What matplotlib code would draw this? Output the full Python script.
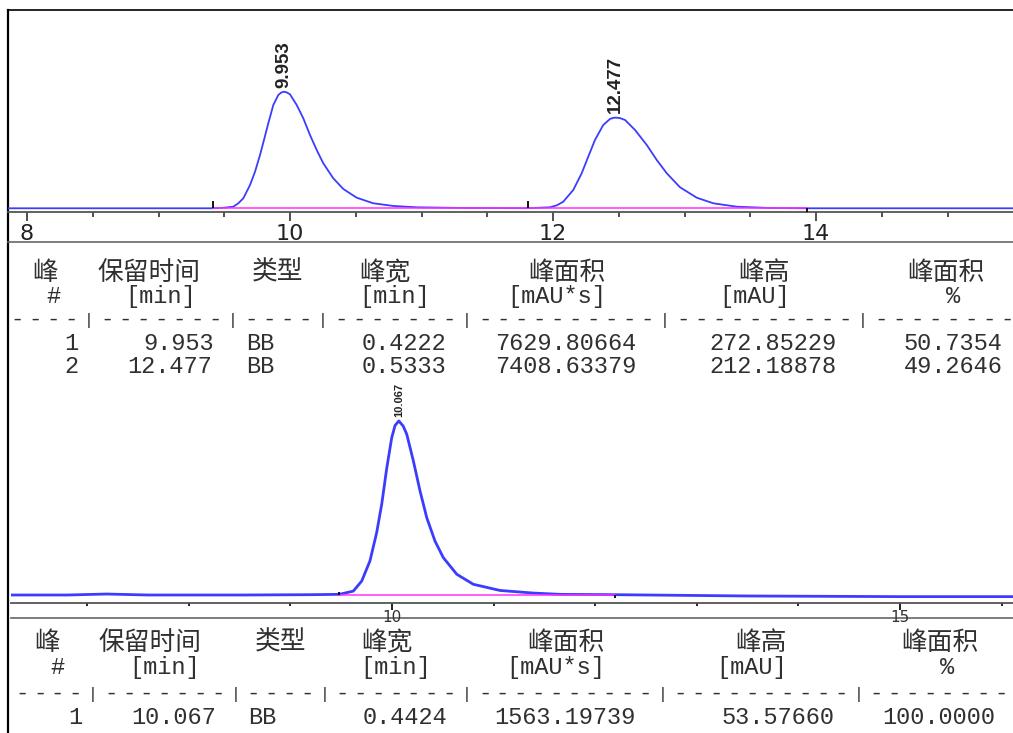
import matplotlib.pyplot as plt
import numpy as np

plt.rcParams['font.family'] = 'DejaVu Sans'

W, H = 1013, 733
CJK = ['Noto Sans CJK SC', 'DejaVu Sans']
MONO = 'Liberation Mono'
LABEL = ['Liberation Sans', 'DejaVu Sans']
TXT = '#303030'

# --- chromatogram 1 ---
t_trace1 = [7.85, 8.5, 9.0, 9.414, 9.49, 9.569, 9.607, 9.645, 9.696, 9.734, 9.772,
            9.802, 9.835, 9.873, 9.911, 9.932, 9.953, 9.976, 10.0, 10.051, 10.101,
            10.152, 10.203, 10.253, 10.329, 10.405, 10.507, 10.633, 10.786, 10.963,
            11.3, 11.81, 11.977, 12.03, 12.078, 12.154, 12.218, 12.268, 12.319,
            12.382, 12.433, 12.455, 12.477, 12.51, 12.548, 12.624, 12.713, 12.789,
            12.865, 12.966, 13.093, 13.219, 13.397, 13.65, 13.93, 14.5, 15.5]
mau_trace1 = [0, 0, 0, 0, 1.0, 3.7, 11.7, 23.4, 54.5, 85.6, 124.7,
              159.8, 198.9, 241.7, 265.1, 270.5, 272.85, 271.0, 266.7, 241.7, 210.6,
              171.5, 136.4, 105.3, 70.2, 45.2, 24.8, 11.7, 5.4, 2.3,
              0.8, 0.2, 2.3, 7.0, 15.4, 42.8, 81.9, 120.7, 159.8,
              194.9, 208.9, 211.3, 212.19, 211.0, 206.6, 183.2, 148.1, 113.0,
              81.9, 49.1, 24.8, 11.7, 3.7, 0.7, 0, 0, 0]
ev_up1 = [9.414, 11.81]
ev_down1 = [13.93]
base1 = [9.414, 13.93]

rt1 = [9.953, 12.477]
type1 = ['BB', 'BB']
width1 = [0.4222, 0.5333]
area1 = [7629.80664, 7408.63379]
height1 = [272.85229, 212.18878]
pct1 = [50.7354, 49.2646]

# --- chromatogram 2 ---
t_trace2 = [6.25, 6.8, 7.19, 7.6, 8.5, 9.2, 9.48, 9.619, 9.702, 9.783, 9.849,
            9.899, 9.948, 9.997, 10.03, 10.067, 10.11, 10.145, 10.21, 10.276,
            10.342, 10.423, 10.505, 10.637, 10.8, 11.063, 11.391, 11.654, 12.19,
            13.5, 15.0, 16.12]
mau_trace2 = [0, 0, 0.3, 0, 0, 0.1, 0.2, 1.2, 4.3, 10.5, 19.2,
              28.0, 39.0, 48.4, 52.2, 53.58, 52.0, 49.5, 41.3, 32.0,
              23.8, 16.6, 11.5, 6.4, 3.3, 1.4, 0.6, 0.2, 0.1,
              -0.3, -0.5, -0.5]
ev_up2 = [9.48]
ev_down2 = [12.19]
base2 = [9.48, 12.19]

rt2 = [10.067]
type2 = ['BB']
width2 = [0.4424]
area2 = [1563.19739]
height2 = [53.5766]
pct2 = [100.0]

headers = ['峰', '保留时间', '类型', '峰宽', '峰面积', '峰高', '峰面积']
units = ['#', '[min]', '', '[min]', '[mAU*s]', '[mAU]', '%']
unit_end = [2, 10, 0, 23, 33, 43, 52]
field_end = [3, 11, 14, 24, 35, 46, 55]
dash_line = '----|-------|----|-------|----------|----------|--------'


def box(l, t, r, b):
    return [l / W, 1 - b / H, (r - l) / W, (b - t) / H]


fig = plt.figure(figsize=(W / 100, H / 100), dpi=100)
ov = fig.add_axes([0, 0, 1, 1])
ov.set_xlim(0, W)
ov.set_ylim(H, 0)
ov.axis('off')

# frame lines
ov.plot([8, 8], [10, H], color='black', lw=1.6)
ov.plot([8, W], [10, 10], color='black', lw=1.2)
ov.plot([8, W], [242, 242], color='#666666', lw=1.2)
ov.plot([11, W], [618, 618], color='#666666', lw=1.2)


def chrom(ax, t, y, ev_up, ev_down, base, rts, hts, xlim, ylim, lw, up, down,
          label_size, label_weight):
    ax.set_facecolor('none')
    ax.plot(t, y, color='#3c3cff', lw=lw, zorder=2)
    ax.plot(base, [0, 0], color='#ff30ff', lw=1.1, zorder=3)
    ax.vlines(ev_up, 0, up, colors='black', lw=1.3, zorder=4)
    ax.vlines(ev_down, down, 0, colors='black', lw=1.3, zorder=4)
    for r, h in zip(rts, hts):
        ax.annotate(f'{r:.3f}', (r, h), xytext=(0, 3), textcoords='offset points',
                    rotation=90, ha='center', va='bottom', fontsize=label_size,
                    family=LABEL, weight=label_weight, color='#222222')
    ax.set_xlim(*xlim)
    ax.set_ylim(*ylim)
    ax.set_yticks([])
    for s in ['top', 'left', 'right']:
        ax.spines[s].set_visible(False)
    ax.spines['bottom'].set_color('#555555')
    ax.spines['bottom'].set_linewidth(1.3)


ax1 = fig.add_axes(box(8, 10, W, 212))
chrom(ax1, t_trace1, mau_trace1, ev_up1, ev_down1, base1, rt1, height1,
      (7.8555, 15.498), (-8.7, 464), 1.3, 17, -9, 13.5, 'bold')
ax1.set_xticks([8, 10, 12, 14])
ax1.set_xticks(np.arange(8.5, 15.5, 0.5), minor=True)
ax1.tick_params(axis='x', which='major', length=6.5, width=1.1, color='#222222',
                labelsize=16, pad=2, labelcolor='#222222')
ax1.tick_params(axis='x', which='minor', length=3.5, width=1.1, color='#222222')

ax2 = fig.add_axes(box(11, 378, W, 603))
chrom(ax2, t_trace2, mau_trace2, ev_up2, ev_down2, base2, rt2, height2,
      (6.25, 16.112), (-2.46, 66.8), 2.0, 1.0, -1.0, 8, 'bold')
ax2.set_xticks([10, 15])
ax2.set_xticks(np.arange(7, 17, 1), minor=True)
ax2.tick_params(axis='x', which='major', length=5, width=1.4, color='#222222',
                labelsize=11, pad=0, labelcolor='#333333')
ax2.tick_params(axis='x', which='minor', length=2.2, width=1.4, color='#222222')


def table(y_head, y_unit, y_dash, y_rows, x0, pitch, head_cx, rows):
    for txt, cx in zip(headers, head_cx):
        ov.text(cx, y_head, txt, family=CJK, fontsize=18.5, ha='center',
                va='baseline', color=TXT)
    for txt, end in zip(units, unit_end):
        if txt:
            ov.text(x0 + (end + 1 - len(txt) / 2) * pitch, y_unit, txt,
                    family=MONO, fontsize=17, ha='center', va='baseline', color=TXT)
    # separator row, one character per column so it keeps the column pitch
    for i, ch in enumerate(dash_line):
        if x0 + (i + 1) * pitch > W + 4:
            break
        ov.text(x0 + (i + 0.5) * pitch, y_dash, ch, family=MONO,
                fontsize=16 if ch == '-' else 12, ha='center', va='center',
                color=TXT)
    for yb, fields in zip(y_rows, rows):
        for txt, end in zip(fields, field_end):
            ov.text(x0 + (end + 1 - len(txt) / 2) * pitch, yb, txt, family=MONO,
                    fontsize=17, ha='center', va='baseline', color=TXT)


rows1 = [[str(i + 1), f'{rt1[i]:.3f}', type1[i], f'{width1[i]:.4f}',
          f'{area1[i]:.5f}', f'{height1[i]:.5f}', f'{pct1[i]:.4f}']
         for i in range(len(rt1))]
rows2 = [[str(i + 1), f'{rt2[i]:.3f}', type2[i], f'{width2[i]:.4f}',
          f'{area2[i]:.5f}', f'{height2[i]:.5f}', f'{pct2[i]:.4f}']
         for i in range(len(rt2))]

table(280, 303, 320, [350, 373], 8, 18.0,
      [45, 149, 278, 385, 567, 764, 946], rows1)
table(650, 674, 694, [724], 13, 17.8,
      [47, 150, 281, 387, 566, 761, 940], rows2)

fig.savefig('out.png', dpi=100)
